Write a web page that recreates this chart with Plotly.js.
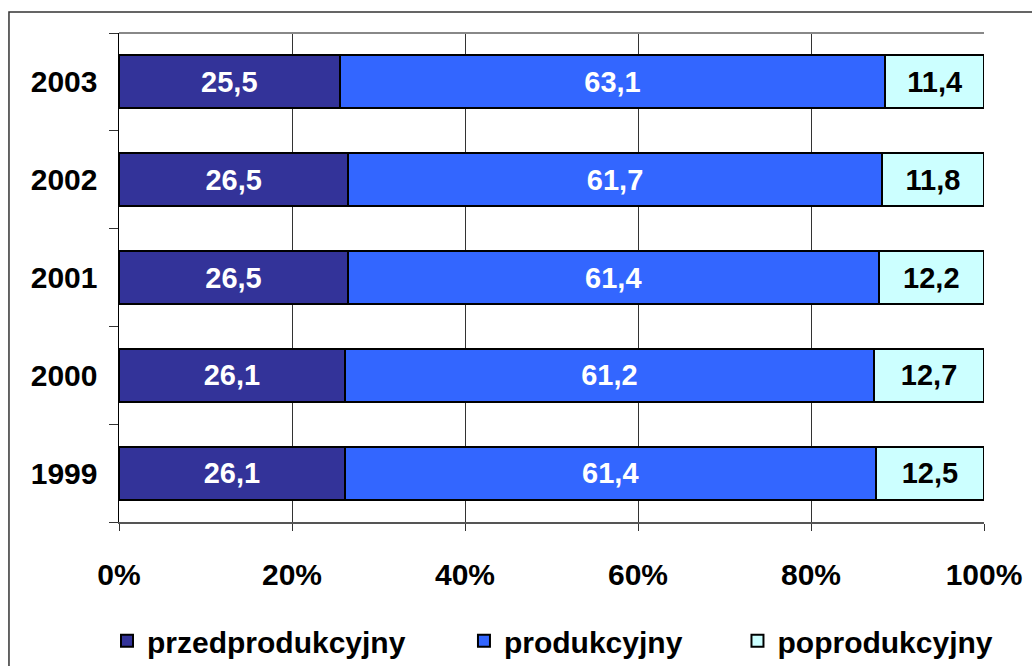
<!DOCTYPE html>
<html>
<head>
<meta charset="utf-8">
<script src="https://cdn.plot.ly/plotly-3.0.1.min.js"></script>
<style>
html,body{margin:0;padding:0;background:#fff;}
#chart{width:1032px;height:666px;}
</style>
</head>
<body>
<div id="chart"></div>
<script>
const years = ['1999', '2000', '2001', '2002', '2003'];
const seriesNames = ['przedprodukcyjny', 'produkcyjny', 'poprodukcyjny'];
const przedprodukcyjny = [26.1, 26.1, 26.5, 26.5, 25.5];
const produkcyjny = [61.4, 61.2, 61.4, 61.7, 63.1];
const poprodukcyjny = [12.5, 12.7, 12.2, 11.8, 11.4];
const xTicks = [0, 20, 40, 60, 80, 100];
const colors = ['#333399', '#3366FF', '#CCFFFF'];
const textColors = ['#FFFFFF', '#FFFFFF', '#000000'];

const FONT = 'Liberation Sans, Arial, sans-serif';
const fmt = v => v.toFixed(1).replace('.', ',');
const legendIds = ['legend', 'legend2', 'legend3'];
const legendX = [-0.0139, 0.3988, 0.7150];

const allSeries = [przedprodukcyjny, produkcyjny, poprodukcyjny];
const traces = allSeries.map((vals, i) => ({
  type: 'bar',
  orientation: 'h',
  name: seriesNames[i],
  legend: legendIds[i],
  y: years,
  x: vals,
  text: vals.map(fmt),
  texttemplate: '%{text}',
  textposition: 'inside',
  insidetextanchor: 'middle',
  textangle: 0,
  constraintext: 'none',
  textfont: {family: FONT, size: 29, color: textColors[i], weight: 'bold'},
  marker: {color: colors[i], line: {color: '#000', width: 2}},
  hoverinfo: 'skip'
}));

const legendStyle = x => ({
  orientation: 'h', x: x, xanchor: 'left', y: -0.243, yanchor: 'middle',
  bgcolor: 'rgba(0,0,0,0)',
  font: {family: FONT, size: 30, color: '#000', weight: 'bold'},
  itemclick: false, itemdoubleclick: false
});

const layout = {
  width: 1032, height: 666,
  margin: {l: 119, r: 48, t: 33, b: 144, autoexpand: false},
  barmode: 'stack',
  barnorm: 'percent',
  bargap: 0.458,
  paper_bgcolor: '#fff', plot_bgcolor: '#fff',
  font: {family: FONT, size: 30, color: '#000', weight: 'bold'},
  showlegend: true,
  legend: legendStyle(legendX[0]),
  legend2: legendStyle(legendX[1]),
  legend3: legendStyle(legendX[2]),
  xaxis: {
    range: [0, 100], tickvals: xTicks, ticktext: xTicks.map(v => v + '%'),
    showgrid: true, gridcolor: '#333', gridwidth: 1,
    showline: true, linecolor: '#555', linewidth: 1.5,
    ticks: 'outside', ticklen: 7, tickcolor: '#333', tickwidth: 1,
    zeroline: false, fixedrange: true,
    ticklabelstandoff: 18,
    tickfont: {family: FONT, size: 30, color: '#000', weight: 'bold'}
  },
  yaxis: {
    type: 'category', categoryorder: 'array', categoryarray: years,
    showgrid: false, showline: true, linecolor: '#000', linewidth: 1.5,
    ticks: 'outside', tickson: 'boundaries', ticklen: 9, tickcolor: '#333', tickwidth: 1,
    ticklabelstandoff: 14, fixedrange: true,
    tickfont: {family: FONT, size: 30, color: '#000', weight: 'bold'}
  },
  shapes: [
    {type: 'line', xref: 'paper', yref: 'paper', x0: 0, x1: 1, y0: 1, y1: 1,
     line: {color: '#888', width: 2}},
    {type: 'rect', xref: 'paper', yref: 'paper', x0: -0.1272, x1: 2, y0: -1, y1: 1.0429,
     line: {color: '#333', width: 1.5}, fillcolor: 'rgba(0,0,0,0)', layer: 'below'}
  ]
};

Plotly.newPlot('chart', traces, layout, {displayModeBar: false, staticPlot: true});
</script>
</body>
</html>
